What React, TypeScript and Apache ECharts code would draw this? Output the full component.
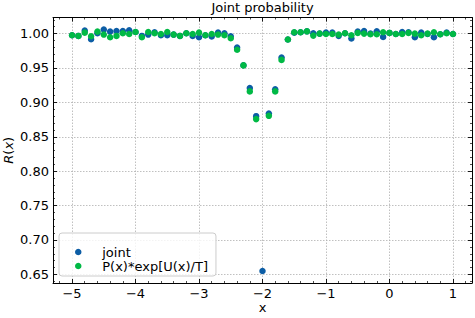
import React, { useEffect, useRef } from 'react';
import * as echarts from 'echarts';

const xValues = [
  -5.0, -4.9, -4.8, -4.7, -4.6, -4.5, -4.4, -4.3, -4.2, -4.1,
  -4.0, -3.9, -3.8, -3.7, -3.6, -3.5, -3.4, -3.3, -3.2, -3.1,
  -3.0, -2.9, -2.8, -2.7, -2.6, -2.5, -2.4, -2.3, -2.2, -2.1,
  -2.0, -1.9, -1.8, -1.7, -1.6, -1.5, -1.4, -1.3, -1.2, -1.1,
  -1.0, -0.9, -0.8, -0.7, -0.6, -0.5, -0.4, -0.3, -0.2, -0.1,
  0.0, 0.1, 0.2, 0.3, 0.4, 0.5, 0.6, 0.7, 0.8, 0.9, 1.0,
];

const jointValues = [
  0.9976, 0.9966, 1.0043, 0.9918, 1.0005, 1.0058, 1.0029, 1.0038, 1.0038, 1.0048,
  1.0024, 0.9966, 0.9986, 1.0020, 0.9976, 0.9976, 0.9986, 0.9966, 1.0005, 0.9966,
  0.9947, 0.9976, 0.9957, 1.0014, 1.0005, 0.9962, 0.9798, 0.9540, 0.9210, 0.8800,
  0.6550, 0.8838, 0.9190, 0.9652, 0.9914, 1.0014, 1.0020, 1.0033, 1.0005, 1.0000,
  1.0014, 1.0014, 0.9967, 1.0005, 0.9929, 1.0029, 1.0038, 1.0000, 1.0033, 0.9952,
  1.0010, 0.9995, 1.0024, 1.0020, 0.9948, 1.0014, 0.9995, 0.9948, 0.9990, 1.0014, 0.9995,
];

const approxValues: (number | null)[] = [
  0.9976, 0.9966, 1.0014, 0.9962, 1.0029, 0.9986, 0.9947, 0.9966, 1.0005, 0.9995,
  1.0024, 0.9947, 1.0024, 1.0005, 0.9995, 1.0024, 0.9986, 0.9966, 1.0005, 0.9995,
  1.0014, 0.9976, 0.9995, 0.9986, 0.9976, 0.9933, 0.9765, 0.9538, 0.9160, 0.8757,
  null, 0.8805, 0.9160, 0.9618, 0.9914, 1.0019, 1.0020, 1.0033, 0.9971, 1.0000,
  0.9995, 0.9995, 0.9986, 1.0005, 0.9976, 1.0010, 1.0000, 0.9990, 0.9990, 1.0019,
  1.0010, 0.9995, 0.9995, 1.0010, 1.0000, 0.9976, 1.0000, 1.0019, 0.9990, 1.0005, 0.9995,
];

const xMajorTicks = [-5, -4, -3, -2, -1, 0, 1];
const yMajorTicks = [0.65, 0.7, 0.75, 0.8, 0.85, 0.9, 0.95, 1.0];
const xMinorTicks = [
  -5.2, -4.8, -4.6, -4.4, -4.2, -3.8, -3.6, -3.4, -3.2, -2.8, -2.6, -2.4, -2.2,
  -1.8, -1.6, -1.4, -1.2, -0.8, -0.6, -0.4, -0.2, 0.2, 0.4, 0.6, 0.8, 1.2,
];
const yMinorTicks = [
  0.64, 0.66, 0.67, 0.68, 0.69, 0.71, 0.72, 0.73, 0.74, 0.76, 0.77, 0.78, 0.79,
  0.81, 0.82, 0.83, 0.84, 0.86, 0.87, 0.88, 0.89, 0.91, 0.92, 0.93, 0.94,
  0.96, 0.97, 0.98, 0.99, 1.01, 1.02,
];

const seriesNames = ['joint', 'P(x)*exp[U(x)/T]'];
const colors = ['#0C5DA5', '#00B945'];
const titleText = 'Joint probability';

const FONT = 'DejaVu Sans';
const X_MIN = -5.3;
const X_MAX = 1.3;
const Y_MIN = 0.6375;
const Y_MAX = 1.0234;

export default function App() {
  const ref = useRef<HTMLDivElement>(null);

  useEffect(() => {
    if (!ref.current) return;
    const chart = echarts.init(ref.current, undefined, { renderer: 'svg' });

    const gridLine = { show: true, lineStyle: { color: '#b0b0b0', width: 0.8, type: [1.5, 1.5] as any } };
    const axisLine = { show: true, onZero: false, lineStyle: { color: '#000', width: 1 } };
    const noLine = { show: false, onZero: false };

    const mkX = (position: string, ticks: number[], len: number, main: boolean, showLine: boolean) => ({
      type: 'value',
      position,
      min: X_MIN,
      max: X_MAX,
      axisLine: showLine ? axisLine : noLine,
      axisTick: { show: true, inside: true, length: len, customValues: ticks, lineStyle: { color: '#000', width: main ? 0.9 : 0.7 } },
      axisLabel: main && position === 'bottom'
        ? {
            show: true,
            customValues: xMajorTicks,
            margin: 4,
            fontSize: 13,
            fontFamily: FONT,
            color: '#000',
            formatter: (v: number) => String(v).replace('-', '\u2212'),
          }
        : { show: false },
      splitLine: main && position === 'bottom' ? gridLine : { show: false },
      name: main && position === 'bottom' ? 'x' : '',
      nameLocation: 'middle',
      nameGap: 18,
      nameMoveOverlap: false,
      nameTextStyle: { fontSize: 13, fontFamily: FONT, color: '#000' },
    });

    const mkY = (position: string, ticks: number[], len: number, main: boolean, showLine: boolean) => ({
      type: 'value',
      position,
      min: Y_MIN,
      max: Y_MAX,
      axisLine: showLine ? axisLine : noLine,
      axisTick: { show: true, inside: true, length: len, customValues: ticks, lineStyle: { color: '#000', width: main ? 0.9 : 0.7 } },
      axisLabel: main && position === 'left'
        ? {
            show: true,
            customValues: yMajorTicks,
            margin: 4,
            fontSize: 13,
            fontFamily: FONT,
            color: '#000',
            formatter: (v: number) => v.toFixed(2),
          }
        : { show: false },
      splitLine: main && position === 'left' ? gridLine : { show: false },
      name: main && position === 'left' ? '{i|R}({i|x})' : '',
      nameLocation: 'middle',
      nameGap: 38,
      nameMoveOverlap: false,
      nameRotate: 90,
      nameTextStyle: {
        fontSize: 13,
        fontFamily: FONT,
        color: '#000',
        rich: { i: { fontStyle: 'italic', fontSize: 13, fontFamily: FONT, color: '#000' } },
      },
    });

    const pairs = (vals: (number | null)[]) =>
      xValues.map((x, i) => [x, vals[i]]).filter((p) => p[1] !== null);

    chart.setOption({
      animation: false,
      backgroundColor: '#fff',
      textStyle: { fontFamily: FONT },
      grid: { left: 53, right: 3, top: 17.5, bottom: 35, containLabel: false, outerBoundsMode: 'none' },
      graphic: [
        {
          type: 'text',
          x: 262.5,
          y: 7,
          style: {
            text: titleText,
            align: 'center',
            verticalAlign: 'middle',
            fontSize: 13,
            fontFamily: FONT,
            fill: '#000',
          },
        },
      ],
      legend: {
        data: seriesNames,
        orient: 'vertical',
        left: 59,
        top: 233,
        padding: [12, 8, 3, 16],
        itemWidth: 22,
        itemHeight: 6.5,
        itemGap: 0,
        icon: 'circle',
        borderColor: '#cccccc',
        borderWidth: 1,
        borderRadius: 3,
        backgroundColor: 'rgba(255,255,255,0.8)',
        textStyle: { fontSize: 13, fontFamily: FONT, color: '#000', lineHeight: 14, padding: [0, 0, 0, 8] },
      },
      xAxis: [
        mkX('bottom', xMajorTicks, 4, true, true),
        mkX('bottom', xMinorTicks, 2, false, false),
        mkX('top', xMajorTicks, 4, true, true),
        mkX('top', xMinorTicks, 2, false, false),
      ],
      yAxis: [
        mkY('left', yMajorTicks, 4, true, true),
        mkY('left', yMinorTicks, 2, false, false),
        mkY('right', yMajorTicks, 4, true, true),
        mkY('right', yMinorTicks, 2, false, false),
      ],
      series: [
        {
          name: seriesNames[0],
          type: 'scatter',
          xAxisIndex: 0,
          yAxisIndex: 0,
          symbol: 'circle',
          symbolSize: 6.5,
          itemStyle: { color: colors[0], opacity: 1 },
          data: pairs(jointValues),
          z: 2,
        },
        {
          name: seriesNames[1],
          type: 'scatter',
          xAxisIndex: 0,
          yAxisIndex: 0,
          symbol: 'circle',
          symbolSize: 6.5,
          itemStyle: { color: colors[1], opacity: 1 },
          data: pairs(approxValues),
          z: 3,
        },
      ],
    });

    return () => chart.dispose();
  }, []);

  return (
    <div
      ref={ref}
      style={{ position: 'fixed', left: 0, top: 0, width: 475, height: 318, background: '#fff' }}
    />
  );
}
